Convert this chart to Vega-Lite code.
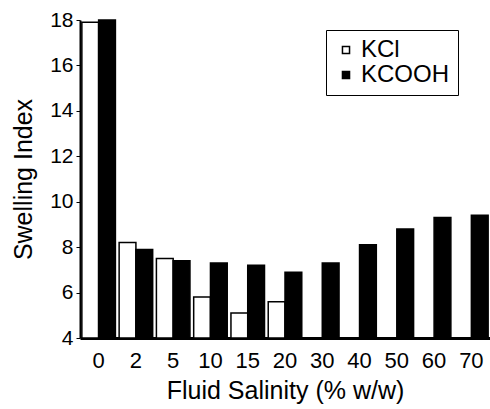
{
  "$schema": "https://vega.github.io/schema/vega-lite/v6.json",
  "autosize": "none",
  "padding": {"left": 80, "top": 20, "right": 0, "bottom": 71},
  "width": 410,
  "height": 318,
  "background": "white",
  "config": {
    "font": "Liberation Sans",
    "view": {"stroke": null},
    "axis": {"labelColor": "black", "titleColor": "black", "domainColor": "black", "tickColor": "black"}
  },
  "data": {
    "values": [
      {"salinity": "0", "fluid": "KCl", "index": 17.9},
      {"salinity": "0", "fluid": "KCOOH", "index": 18.0},
      {"salinity": "2", "fluid": "KCl", "index": 8.2},
      {"salinity": "2", "fluid": "KCOOH", "index": 7.9},
      {"salinity": "5", "fluid": "KCl", "index": 7.5},
      {"salinity": "5", "fluid": "KCOOH", "index": 7.4},
      {"salinity": "10", "fluid": "KCl", "index": 5.8},
      {"salinity": "10", "fluid": "KCOOH", "index": 7.3},
      {"salinity": "15", "fluid": "KCl", "index": 5.1},
      {"salinity": "15", "fluid": "KCOOH", "index": 7.2},
      {"salinity": "20", "fluid": "KCl", "index": 5.6},
      {"salinity": "20", "fluid": "KCOOH", "index": 6.9},
      {"salinity": "30", "fluid": "KCOOH", "index": 7.3},
      {"salinity": "40", "fluid": "KCOOH", "index": 8.1},
      {"salinity": "50", "fluid": "KCOOH", "index": 8.8},
      {"salinity": "60", "fluid": "KCOOH", "index": 9.3},
      {"salinity": "70", "fluid": "KCOOH", "index": 9.4}
    ]
  },
  "mark": {"type": "bar", "stroke": "black", "strokeWidth": 1.5},
  "encoding": {
    "x": {
      "field": "salinity",
      "type": "ordinal",
      "sort": ["0", "2", "5", "10", "15", "20", "30", "40", "50", "60", "70"],
      "scale": {"paddingInner": 0.1, "paddingOuter": 0.05},
      "axis": {
        "title": "Fluid Salinity (% w/w)",
        "titleFontSize": 25,
        "titleFontWeight": "normal",
        "titlePadding": 7,
        "labelFontSize": 22,
        "labelAngle": 0,
        "labelPadding": 12,
        "ticks": false,
        "domainWidth": 3
      }
    },
    "xOffset": {
      "field": "fluid",
      "type": "nominal",
      "sort": ["KCl", "KCOOH"]
    },
    "y": {
      "field": "index",
      "type": "quantitative",
      "scale": {"domain": [4, 18], "zero": false, "nice": false},
      "axis": {
        "title": "Swelling Index",
        "titleFontSize": 25,
        "titleFontWeight": "normal",
        "titlePadding": 13,
        "labelFontSize": 21,
        "values": [4, 6, 8, 10, 12, 14, 16, 18],
        "grid": false,
        "tickSize": 4,
        "domainWidth": 2,
        "labelPadding": 3
      }
    },
    "y2": {"datum": 4},
    "fill": {
      "field": "fluid",
      "type": "nominal",
      "sort": ["KCl", "KCOOH"],
      "scale": {"domain": ["KCl", "KCOOH"], "range": ["white", "black"]},
      "legend": {
        "title": null,
        "orient": "none",
        "legendX": 246,
        "legendY": 10,
        "strokeColor": "black",
        "padding": 8,
        "symbolType": "square",
        "symbolSize": 50,
        "symbolStrokeColor": "black",
        "symbolStrokeWidth": 1.5,
        "labelFontSize": 24,
        "labelColor": "black",
        "labelOffset": 3,
        "rowPadding": 1
      }
    }
  }
}
